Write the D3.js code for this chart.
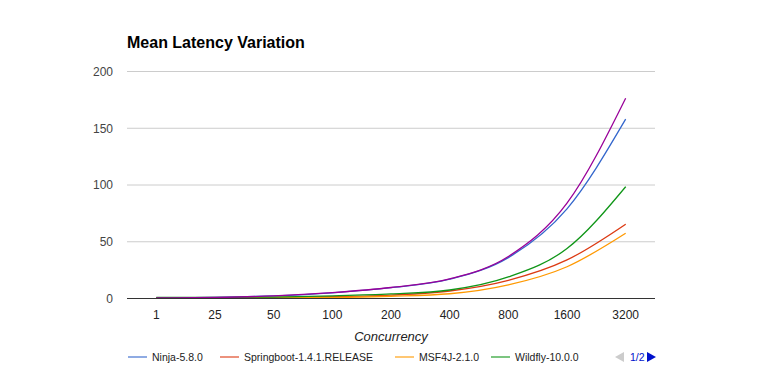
<!DOCTYPE html>
<html lang="en">
<head>
    <meta charset="UTF-8">
    <title>Mean Latency Variation</title>
    <script src="https://d3js.org/d3.v7.min.js"></script>
    <style>
        body { margin: 0; background: #fff; font-family: Arial, "Liberation Sans", sans-serif; }
        svg text { font-family: Arial, "Liberation Sans", sans-serif; }
    </style>
</head>
<body>
<div id="chart"></div>
<script>
    // categories on the x axis
    const concurrency = ["1", "25", "50", "100", "200", "400", "800", "1600", "3200"];
    // mean latency per framework
    const ninja      = [0.5, 1.0, 2.3, 5.0, 9.5, 17.0, 36.0, 79.0, 158.0];
    const springboot = [0.5, 0.6, 0.9, 1.6, 3.0, 6.6, 16.0, 34.0, 65.5];
    const msf4j      = [0.3, 0.4, 0.6, 0.9, 2.0, 4.2, 12.0, 28.0, 57.5];
    const wildfly    = [1.0, 1.0, 1.3, 2.3, 4.0, 7.5, 19.0, 44.0, 98.5];
    const fifth      = [0.5, 1.0, 2.3, 5.2, 9.7, 17.3, 37.0, 84.0, 176.5]; // on legend page 2
    const yTicks = [0, 50, 100, 150, 200];

    const series = [
        { name: "Ninja-5.8.0", values: ninja, color: "#3366cc" },
        { name: "Springboot-1.4.1.RELEASE", values: springboot, color: "#dc3912" },
        { name: "MSF4J-2.1.0", values: msf4j, color: "#ff9900" },
        { name: "Wildfly-10.0.0", values: wildfly, color: "#109618" },
        { name: "", values: fifth, color: "#990099" }
    ];

    const width = 783, height = 371;
    const svg = d3.select("#chart").append("svg").attr("width", width).attr("height", height);

    const x = d3.scalePoint().domain(concurrency).range([127, 655]).padding(0.5);
    const y = d3.scaleLinear().domain([0, 200]).range([298.5, 71.5]);

    // title
    svg.append("text")
        .attr("x", 127).attr("y", 48)
        .attr("font-size", 16).attr("font-weight", "bold").attr("fill", "#000")
        .text("Mean Latency Variation");

    // gridlines
    svg.append("g").selectAll("line")
        .data(yTicks.filter(t => t > 0))
        .enter().append("line")
        .attr("x1", 127).attr("x2", 655)
        .attr("y1", d => y(d)).attr("y2", d => y(d))
        .attr("stroke", "#cccccc").attr("stroke-width", 1);

    // y tick labels
    svg.append("g").selectAll("text")
        .data(yTicks)
        .enter().append("text")
        .attr("x", 113).attr("y", d => y(d))
        .attr("dy", "0.36em")
        .attr("text-anchor", "end")
        .attr("font-size", 12).attr("fill", "#444")
        .text(d => d);

    // x tick labels
    svg.append("g").selectAll("text")
        .data(concurrency)
        .enter().append("text")
        .attr("x", d => x(d)).attr("y", 319)
        .attr("text-anchor", "middle")
        .attr("font-size", 12).attr("fill", "#222")
        .text(d => d);

    svg.append("text")
        .attr("x", 391).attr("y", 341)
        .attr("text-anchor", "middle")
        .attr("font-size", 13).attr("font-style", "italic").attr("fill", "#222")
        .text("Concurrency");

    // lines
    const line = d3.line()
        .x((d, i) => x(concurrency[i]))
        .y(d => y(d))
        .curve(d3.curveMonotoneX);

    svg.append("g").selectAll("path")
        .data(series)
        .enter().append("path")
        .attr("d", d => line(d.values))
        .attr("fill", "none")
        .attr("stroke", d => d.color)
        .attr("stroke-width", 1.3);

    // baseline
    svg.append("line")
        .attr("x1", 127).attr("x2", 655)
        .attr("y1", y(0)).attr("y2", y(0))
        .attr("stroke", "#333").attr("stroke-width", 1);

    // legend (page 1 of 2)
    const legendX = [128, 220, 395, 491];
    const legend = svg.append("g").selectAll("g")
        .data(series.slice(0, 4))
        .enter().append("g")
        .attr("transform", (d, i) => `translate(${legendX[i]},357)`);
    legend.append("line")
        .attr("x1", 0).attr("x2", 19)
        .attr("stroke", d => d.color).attr("stroke-width", 2).attr("stroke-opacity", 0.55);
    legend.append("text")
        .attr("x", 24).attr("dy", "0.36em")
        .attr("font-size", 10.5).attr("fill", "#222")
        .text(d => d.name);

    // pager
    svg.append("path").attr("d", "M624,352 L624,362 L615,357 Z").attr("fill", "#cccccc");
    svg.append("text")
        .attr("x", 630).attr("y", 357).attr("dy", "0.36em")
        .attr("font-size", 10.5).attr("fill", "#0011cc")
        .text("1/2");
    svg.append("path").attr("d", "M647,352 L647,362 L656,357 Z").attr("fill", "#0011cc");
</script>
</body>
</html>
